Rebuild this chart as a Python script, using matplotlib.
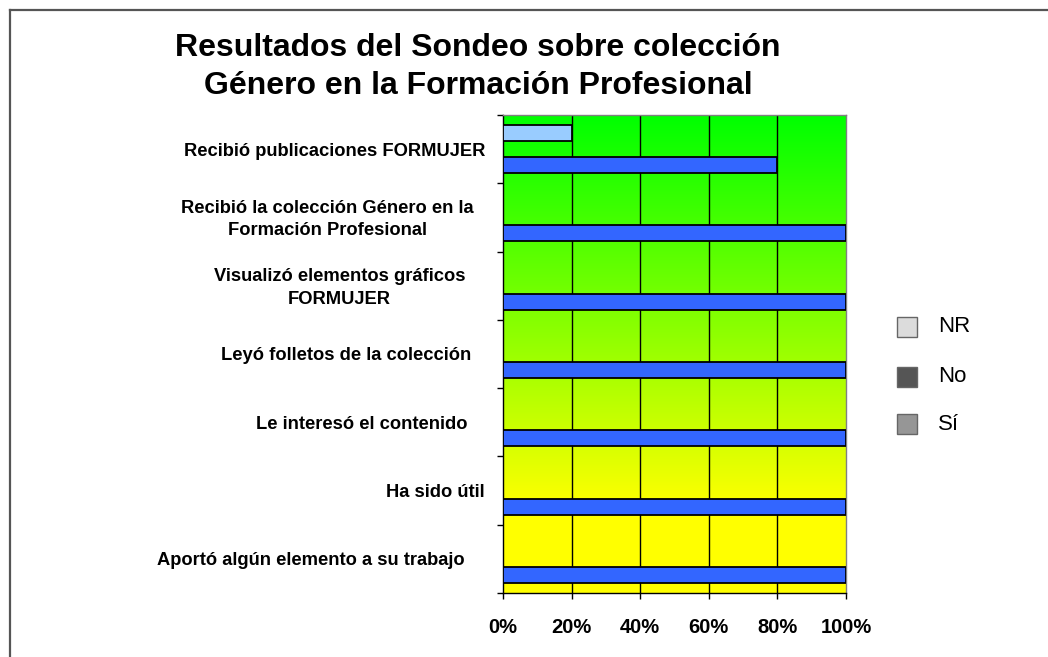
import numpy as np
import matplotlib
matplotlib.use("Agg")
import matplotlib.pyplot as plt
from matplotlib.patches import Rectangle
from matplotlib.lines import Line2D
from matplotlib.colors import LinearSegmentedColormap

plt.rcParams['font.family'] = ['Liberation Sans', 'DejaVu Sans']

# ---- data ----
categories = [
    "Recibió publicaciones FORMUJER",
    "Recibió la colección Género en la\nFormación Profesional",
    "Visualizó elementos gráficos\nFORMUJER",
    "Leyó folletos de la colección",
    "Le interesó el contenido",
    "Ha sido útil",
    "Aportó algún elemento a su trabajo",
]
si_vals = [80, 100, 100, 100, 100, 100, 100]
no_vals = [0, 0, 0, 0, 0, 0, 0]
nr_vals = [20, 0, 0, 0, 0, 0, 0]
x_ticks = [0, 20, 40, 60, 80, 100]
x_ticklabels = ["0%", "20%", "40%", "60%", "80%", "100%"]
legend_labels = ["NR", "No", "Sí"]
title = "Resultados del Sondeo sobre colección\nGénero en la Formación Profesional"

# ---- layout / style ----
W, H = 1048, 657
label_right_px = [485, 474, 465, 471, 468, 485, 465]
legend_colors = ["#DCDCDC", "#555555", "#969696"]

fig = plt.figure(figsize=(W / 100, H / 100), dpi=100)
fig.patch.set_facecolor("white")

ax_l, ax_r, ax_t, ax_b = 503, 846, 115, 593
ax = fig.add_axes([ax_l / W, 1 - ax_b / H, (ax_r - ax_l) / W, (ax_b - ax_t) / H])

n = len(categories)
ax.set_xlim(0, 100)
ax.set_ylim(n, 0)

# gradient background green -> yellow
cmap = LinearSegmentedColormap.from_list("gy", [(0, "#00FF00"), (0.82, "#FFFF00"), (1, "#FFFF00")])
grad = np.linspace(0, 1, 256).reshape(-1, 1)
ax.imshow(grad, cmap=cmap, aspect="auto", extent=[0, 100, n, 0], zorder=0)

# gridlines
for xv in x_ticks[1:-1]:
    ax.axvline(xv, color="black", lw=1.0, zorder=1)

centers = np.arange(n) + 0.5
h = 16 / 68.3
ax.barh(centers - h, nr_vals, height=h, color="#99CCFF", edgecolor="black", lw=1.3, zorder=3)
ax.barh(centers, no_vals, height=h, color="#555555", edgecolor="none", lw=0, zorder=3)
ax.barh(centers + h, si_vals, height=h, color="#3366FF", edgecolor="black", lw=1.3, zorder=3)

# ticks
ax.set_xticks(x_ticks)
ax.set_xticklabels(x_ticklabels, fontsize=14.5, fontweight="bold")
ax.tick_params(axis="x", direction="out", length=4, width=1, pad=14, colors="black")
ax.set_yticks(np.arange(n + 1))
ax.set_yticklabels([])
ax.tick_params(axis="y", direction="out", length=4, width=1, colors="black")

for sp in ["left", "bottom"]:
    ax.spines[sp].set_color("black")
    ax.spines[sp].set_linewidth(1.0)
for sp in ["top", "right"]:
    ax.spines[sp].set_color("#808080")
    ax.spines[sp].set_linewidth(1.0)

# category labels
for i, (lab, rx) in enumerate(zip(categories, label_right_px)):
    yc = ax_t + (i + 0.5) * (ax_b - ax_t) / n + 2
    fig.text(rx / W, 1 - yc / H, lab, ha="right", va="center", multialignment="center",
             fontsize=13.2, fontweight="bold", linespacing=1.44)

# title
fig.text(478 / W, 1 - 67 / H, title, ha="center", va="center", multialignment="center",
         fontsize=23, fontweight="bold", linespacing=1.32)

# legend (manual)
leg_y = [327, 377, 424]
for lab, col, yc in zip(legend_labels, legend_colors, leg_y):
    fig.add_artist(Rectangle(((897) / W, 1 - (yc + 10) / H), 20 / W, 20 / H,
                             transform=fig.transFigure, facecolor=col,
                             edgecolor="#666666", lw=1.0))
    fig.text(938 / W, 1 - yc / H, lab, ha="left", va="center", fontsize=16)

# outer frame (only left and top visible)
fig.add_artist(Line2D([9.5 / W, 9.5 / W], [0, 1 - 9.5 / H], transform=fig.transFigure,
                      color="#555555", lw=1.6))
fig.add_artist(Line2D([9.5 / W, 1], [1 - 9.5 / H, 1 - 9.5 / H], transform=fig.transFigure,
                      color="#555555", lw=1.6))

fig.savefig("out.png", dpi=100)
